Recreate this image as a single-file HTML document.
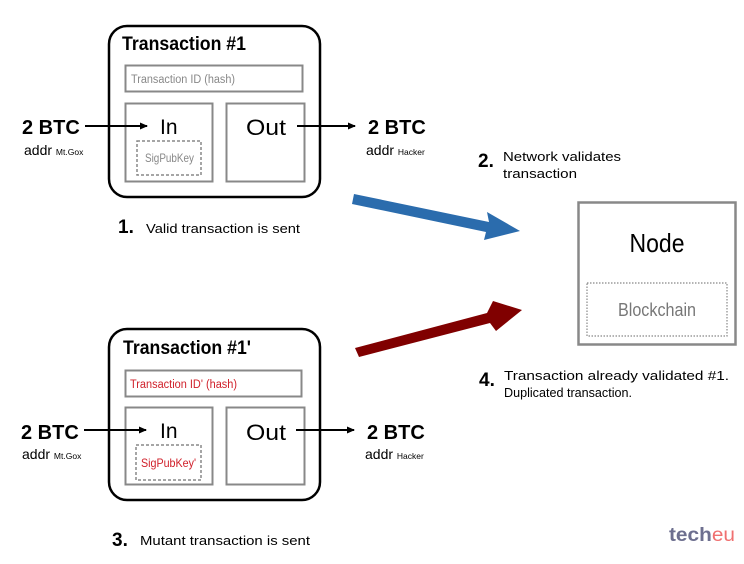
<!DOCTYPE html>
<html><head><meta charset="utf-8"><style>
html,body{margin:0;padding:0;background:#fff;}
svg{display:block;font-family:"Liberation Sans",sans-serif;}
</style></head><body>
<svg width="744" height="564" viewBox="0 0 744 564" xmlns="http://www.w3.org/2000/svg">
<defs>
<marker id="ah" markerWidth="8" markerHeight="8" refX="7" refY="4" orient="auto" markerUnits="userSpaceOnUse"><path d="M0,0.5 L8,4 L0,7.5 z" fill="#000"/></marker>
</defs>
<!-- Transaction 1 -->
<rect x="109" y="26" width="211" height="171" rx="18" fill="none" stroke="#000" stroke-width="2.5"/>
<text x="122" y="50" font-size="19" font-weight="bold" textLength="124" lengthAdjust="spacingAndGlyphs">Transaction #1</text>
<rect x="125.5" y="65.5" width="177" height="26" fill="none" stroke="#888" stroke-width="2"/>
<text x="131" y="83" font-size="11.5" fill="#888" textLength="104" lengthAdjust="spacingAndGlyphs">Transaction ID (hash)</text>
<rect x="125.5" y="103.5" width="87" height="78" fill="none" stroke="#888" stroke-width="2"/>
<rect x="226.5" y="103.5" width="78" height="78" fill="none" stroke="#888" stroke-width="2"/>
<rect x="137" y="141" width="64" height="34" fill="none" stroke="#888" stroke-width="1.5" stroke-dasharray="3,2"/>
<text x="145" y="162" font-size="12" fill="#888" textLength="49" lengthAdjust="spacingAndGlyphs">SigPubKey</text>
<text x="160" y="134" font-size="21" fill="#000">In</text>
<text x="246" y="135" font-size="22" fill="#000" textLength="40" lengthAdjust="spacingAndGlyphs">Out</text>
<line x1="85" y1="126" x2="147" y2="126" stroke="#000" stroke-width="2" marker-end="url(#ah)"/>
<line x1="297" y1="126" x2="355" y2="126" stroke="#000" stroke-width="2" marker-end="url(#ah)"/>
<text x="22" y="134" font-size="20" font-weight="bold">2 BTC</text>
<text x="24" y="155" font-size="14">addr <tspan font-size="8.5">Mt.Gox</tspan></text>
<text x="368" y="134" font-size="20" font-weight="bold">2 BTC</text>
<text x="366" y="155" font-size="14">addr <tspan font-size="8.5">Hacker</tspan></text>
<text x="118" y="233" font-size="19" font-weight="bold">1.</text>
<text x="146" y="233" font-size="12.5" textLength="154" lengthAdjust="spacingAndGlyphs">Valid transaction is sent</text>
<!-- Transaction 1' -->
<rect x="109" y="329" width="211" height="171" rx="18" fill="none" stroke="#000" stroke-width="2.5"/>
<text x="123" y="354" font-size="19" font-weight="bold" textLength="128" lengthAdjust="spacingAndGlyphs">Transaction #1'</text>
<rect x="125.5" y="370.5" width="176" height="26" fill="none" stroke="#888" stroke-width="2"/>
<text x="130" y="388" font-size="11.5" fill="#d0202a" textLength="107" lengthAdjust="spacingAndGlyphs">Transaction ID' (hash)</text>
<rect x="125.5" y="407.5" width="87" height="77" fill="none" stroke="#888" stroke-width="2"/>
<rect x="226.5" y="407.5" width="78" height="77" fill="none" stroke="#888" stroke-width="2"/>
<rect x="136" y="445" width="65" height="35" fill="none" stroke="#888" stroke-width="1.5" stroke-dasharray="3,2"/>
<text x="141" y="467" font-size="12" fill="#d0202a" textLength="55" lengthAdjust="spacingAndGlyphs">SigPubKey'</text>
<text x="160" y="438" font-size="21" fill="#000">In</text>
<text x="246" y="440" font-size="22" fill="#000" textLength="40" lengthAdjust="spacingAndGlyphs">Out</text>
<line x1="84" y1="430" x2="146" y2="430" stroke="#000" stroke-width="2" marker-end="url(#ah)"/>
<line x1="296" y1="430" x2="354" y2="430" stroke="#000" stroke-width="2" marker-end="url(#ah)"/>
<text x="21" y="439" font-size="20" font-weight="bold">2 BTC</text>
<text x="22" y="459" font-size="14">addr <tspan font-size="8.5">Mt.Gox</tspan></text>
<text x="367" y="439" font-size="20" font-weight="bold">2 BTC</text>
<text x="365" y="459" font-size="14">addr <tspan font-size="8.5">Hacker</tspan></text>
<text x="112" y="546" font-size="19" font-weight="bold">3.</text>
<text x="140" y="545" font-size="12.5" textLength="170" lengthAdjust="spacingAndGlyphs">Mutant transaction is sent</text>
<!-- arrows -->
<polygon points="354,194 489,222 487,212 520,231 484,240 486,232 352,204" fill="#2b6cad"/>
<polygon points="355,348 487,313 493,301 522,310 496,331 490,323 359,357" fill="#800000"/>
<!-- node -->
<rect x="578.5" y="202.5" width="157" height="142" fill="none" stroke="#888" stroke-width="2.5"/>
<text x="657" y="252" font-size="26" text-anchor="middle" textLength="55" lengthAdjust="spacingAndGlyphs">Node</text>
<rect x="587" y="283" width="140" height="53" fill="none" stroke="#888" stroke-width="1.2" stroke-dasharray="1.5,1.5"/>
<text x="657" y="316" font-size="18" fill="#777" text-anchor="middle" textLength="78" lengthAdjust="spacingAndGlyphs">Blockchain</text>
<text x="478" y="167" font-size="19" font-weight="bold">2.</text>
<text x="503" y="161" font-size="12.5" textLength="118" lengthAdjust="spacingAndGlyphs">Network validates</text>
<text x="503" y="178" font-size="12.5" textLength="74" lengthAdjust="spacingAndGlyphs">transaction</text>
<text x="479" y="386" font-size="19" font-weight="bold">4.</text>
<text x="504" y="380" font-size="12.5" textLength="225" lengthAdjust="spacingAndGlyphs">Transaction already validated #1.</text>
<text x="504" y="397" font-size="12.5" textLength="128" lengthAdjust="spacingAndGlyphs">Duplicated transaction.</text>
<text x="669" y="541" font-size="19" font-weight="bold" fill="#6d6f8f" textLength="66" lengthAdjust="spacingAndGlyphs">tech<tspan fill="#f07070" font-weight="normal">eu</tspan></text>
</svg>
</body></html>
